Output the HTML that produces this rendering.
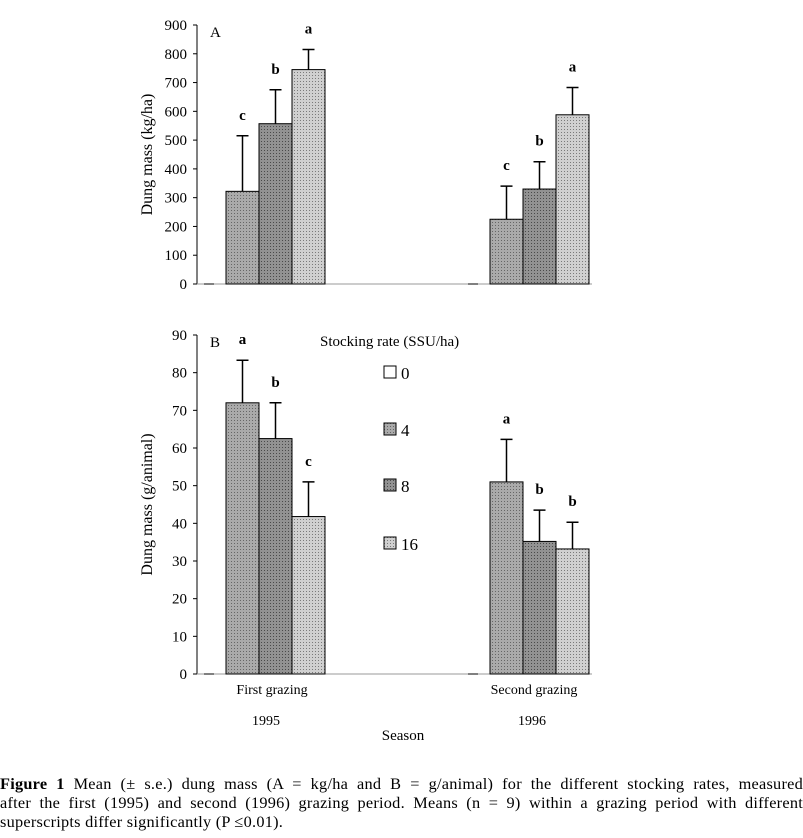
<!DOCTYPE html>
<html><head><meta charset="utf-8"><style>
body{margin:0;background:#fff;width:803px;height:838px;overflow:hidden;font-family:"Liberation Serif",serif;}
svg text{font-family:"Liberation Serif",serif;fill:#000}
#cap{position:absolute;left:0;top:774px;width:803px;font-size:16.3px;letter-spacing:0.25px;line-height:19px;}
#cap .j{text-align:justify;text-align-last:justify;white-space:nowrap}
</style></head><body>
<svg id="chart" width="803" height="770" style="position:absolute;left:0;top:0">
<defs>
<pattern id="p4" width="3" height="3" patternUnits="userSpaceOnUse"><rect width="3" height="3" fill="#aaa"/><rect width="1" height="1" fill="#666"/></pattern>
<pattern id="p8" width="3" height="3" patternUnits="userSpaceOnUse"><rect width="3" height="3" fill="#929292"/><rect width="1" height="1" fill="#4a4a4a"/></pattern>
<pattern id="p16" width="3" height="3" patternUnits="userSpaceOnUse"><rect width="3" height="3" fill="#d0d0d0"/><rect width="1" height="1" fill="#7a7a7a"/></pattern>
</defs>
<g id="gA"></g><g id="gB"></g>
<text x="320" y="346" font-size="15">Stocking rate (SSU/ha)</text>
<g><rect x="384" y="366" width="12" height="12" fill="#fff" stroke="#000"/><text x="401" y="379" font-size="17">0</text></g>
<g><rect x="384" y="423" width="12" height="12" fill="url(#p4)" stroke="#000"/><text x="401" y="436" font-size="17">4</text></g>
<g><rect x="384" y="479" width="12" height="12" fill="url(#p8)" stroke="#000"/><text x="401" y="492" font-size="17">8</text></g>
<g><rect x="384" y="537" width="12" height="12" fill="url(#p16)" stroke="#000"/><text x="401" y="550" font-size="17">16</text></g>
<text x="272" y="694" font-size="14" text-anchor="middle">First grazing</text>
<text x="534" y="694" font-size="14" text-anchor="middle">Second grazing</text>
<text x="266" y="725" font-size="14" text-anchor="middle">1995</text>
<text x="532" y="725" font-size="14" text-anchor="middle">1996</text>
<text x="403" y="740" font-size="15" text-anchor="middle">Season</text>
</svg>
<div id="cap"><div class="j"><b>Figure 1</b> Mean (± s.e.) dung mass (A = kg/ha and B = g/animal) for the different stocking rates, measured</div><div class="j">after the first (1995) and second (1996) grazing period. Means (n = 9) within a grazing period with different</div><div>superscripts differ significantly (P ≤0.01).</div></div>
<script>
const rates=["4","8","16"];
const groupsA=["1995","1996"];
const meansA=[[322,557,745],[225,330,588]];
const errA=[[515,675,815],[340,425,683]];
const lettersA=[["c","b","a"],["c","b","a"]];
const ticksA=[0,100,200,300,400,500,600,700,800,900];
const meansB=[[72,62.5,41.8],[51,35.2,33.2]];
const errB=[[83.3,72,51],[62.3,43.5,40.3]];
const lettersB=[["a","b","c"],["a","b","b"]];
const ticksB=[0,10,20,30,40,50,60,70,80,90];
const NS="http://www.w3.org/2000/svg";
const fills=["url(#p4)","url(#p8)","url(#p16)"];
function mk(p,t,a){const e=document.createElementNS(NS,t);for(const k in a)e.setAttribute(k,a[k]);p.appendChild(e);return e;}
function panel(g,y0,y1,max,ticks,means,errs,letters,title,label,nm){
  const y=v=>y0-(v/max)*(y0-y1);
  const gx=[226,490];
  let ax=mk(g,'line',{x1:197,y1:y1,x2:197,y2:y0,stroke:'#000'});
  
  
  let xa=mk(g,'line',{x1:197,y1:y0,x2:592,y2:y0,stroke:'#999'});
  
  
  ticks.forEach(t=>{
    mk(g,'line',{x1:193,y1:y(t),x2:197,y2:y(t),stroke:'#000'});
    let tx=mk(g,'text',{x:187,y:y(t)+5,'font-size':15,'text-anchor':'end'});tx.textContent=t;
    
    
  });
  means.forEach((grp,gi)=>grp.forEach((v,i)=>{
    const x=gx[gi]+i*33;
    let b=mk(g,'rect',{x:x,y:y(v),width:33,height:y0-y(v),fill:fills[i],stroke:'#000'});
    
    
    const cx=x+16.5;
    let e=mk(g,'path',{d:`M${cx},${y(v)}V${y(errs[gi][i])}M${cx-6},${y(errs[gi][i])}H${cx+6}`,stroke:'#000','stroke-width':1.5,fill:'none'});
    
    
    let l=mk(g,'text',{x:cx,y:y(errs[gi][i])-16,'font-size':15,'font-weight':'bold','text-anchor':'middle'});l.textContent=letters[gi][i];
    
    
  }));
  mk(g,'line',{x1:204,y1:y0,x2:214,y2:y0,stroke:'#000'});
  mk(g,'line',{x1:468,y1:y0,x2:478,y2:y0,stroke:'#000'});
  let pt=mk(g,'text',{x:210,y:y1+12,'font-size':15});pt.textContent=label;
  
  
  const my=(y0+y1)/2;
  let at=mk(g,'text',{x:152,y:my,'font-size':16,'text-anchor':'middle',transform:`rotate(-90 152 ${my})`});at.textContent=title;
  
  
}
panel(document.getElementById('gA'),284,25,900,ticksA,meansA,errA,lettersA,'Dung mass (kg/ha)','A','panel-a');
panel(document.getElementById('gB'),674,335,90,ticksB,meansB,errB,lettersB,'Dung mass (g/animal)','B','panel-b');
</script>
</body></html>
